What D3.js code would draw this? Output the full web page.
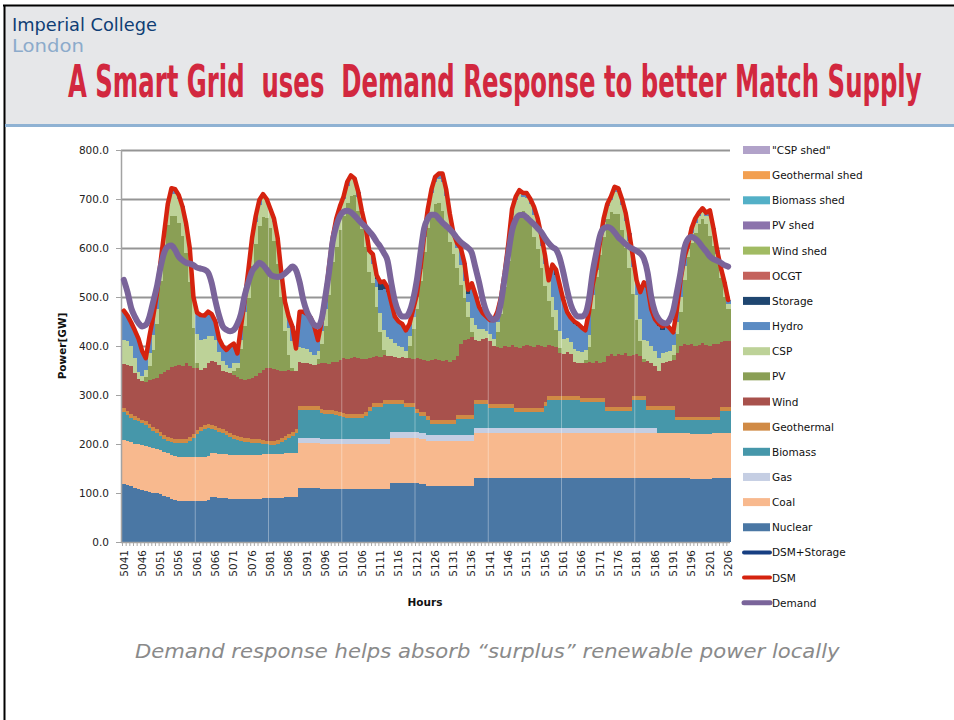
<!DOCTYPE html>
<html>
<head>
<meta charset="utf-8">
<script src="https://cdn.jsdelivr.net/npm/d3@7"></script>
<style>
  body { margin: 0; background: #fff; }
  svg { display: block; }
</style>
</head>
<body>
<svg id="chart" width="954" height="720"></svg>
<script>
// Hours on the x axis (5041 .. 5206)
const firstHour = 5041;
const hours = d3.range(firstHour, firstHour + 166);

// Supply by source, GW per hour
const nuclear = [
  118,116,114,111,109,107,105,103,101,99,
  97,94,91,88,86,84,83,83,83,83,
  83,84,84,85,91,91,90,90,89,88,
  88,88,87,87,87,88,88,88,89,89,
  89,90,90,90,91,91,92,92,110,110,
  110,110,110,110,108,108,108,108,108,108,
  108,108,108,108,109,109,109,109,109,109,
  109,109,109,120,120,120,120,120,120,120,
  120,118,118,115,115,115,115,115,115,115,
  115,115,115,115,115,115,130,130,130,130,
  130,130,130,130,130,130,130,130,130,130,
  130,130,130,130,130,130,130,130,130,130,
  130,130,130,130,130,130,130,130,130,130,
  130,130,130,130,130,130,130,130,130,130,
  130,130,130,130,130,130,130,130,130,130,
  130,130,130,130,130,128,128,128,128,128,
  128,130,130,130,130,130
];
const coal = [
  90,90,90,90,90,90,90,90,90,90,
  90,90,90,90,90,90,90,90,90,90,
  90,90,90,90,90,90,90,90,90,90,
  90,90,90,90,90,90,90,90,90,90,
  90,90,90,90,90,90,90,90,92,92,
  92,92,92,92,92,92,92,92,92,92,
  92,92,92,92,92,92,92,92,92,92,
  92,92,92,92,92,92,92,92,92,92,
  92,92,92,92,92,92,92,92,92,92,
  92,92,92,92,92,92,92,92,92,92,
  92,92,92,92,92,92,92,92,92,92,
  92,92,92,92,92,92,92,92,92,92,
  92,92,92,92,92,92,92,92,92,92,
  92,92,92,92,92,92,92,92,92,92,
  92,92,92,92,92,92,92,92,92,92,
  92,92,92,92,92,92,92,92,92,92,
  92,92,92,92,92,92
];
const gas = [
  0,0,0,0,0,0,0,0,0,0,
  0,0,0,0,0,0,0,0,0,0,
  0,0,0,0,0,0,0,0,0,0,
  0,0,0,0,0,0,0,0,0,0,
  0,0,0,0,0,0,0,0,10,10,
  10,10,10,10,10,10,10,10,10,10,
  10,10,10,10,10,10,10,10,10,10,
  10,10,10,12,12,12,12,12,12,12,
  12,12,12,11,11,11,11,11,11,11,
  11,11,11,11,11,11,11,11,11,11,
  11,11,11,11,11,11,11,11,11,11,
  11,11,11,11,11,11,11,11,11,11,
  11,11,11,11,11,11,11,11,11,11,
  11,11,11,11,11,11,11,11,11,11,
  11,11,11,11,11,11,0,0,0,0,
  0,0,0,0,0,0,0,0,0,0,
  0,0,0,0,0,0
];
const biomass = [
  57,54,50,49,47,45,43,39,36,33,
  29,26,25,26,26,28,29,30,33,39,
  47,52,56,57,50,47,44,42,39,36,
  32,30,29,28,27,25,24,24,21,20,
  19,18,20,24,27,31,35,40,58,58,
  58,58,58,57,54,52,52,51,50,48,
  45,44,44,44,43,43,47,56,64,64,
  64,70,70,57,57,57,57,52,52,52,
  40,36,36,32,22,22,22,22,22,22,
  22,34,34,34,34,34,49,49,49,49,
  41,41,41,41,41,41,41,33,33,33,
  33,33,33,33,33,44,56,56,56,56,
  56,56,56,56,56,52,52,52,52,52,
  52,52,34,34,34,34,34,34,34,56,
  56,56,56,36,36,36,47,47,47,47,
  47,26,26,26,26,28,28,28,28,28,
  28,26,26,45,45,45
];
const geothermal = [
  8,8,8,8,8,8,8,8,8,8, 8,8,8,8,8,8,8,8,8,8,
  8,8,8,8,8,8,8,8,8,8, 8,8,8,8,8,8,8,8,8,8,
  8,8,8,8,8,8,8,8,8,8, 8,8,8,8,8,8,8,8,8,8,
  8,8,8,8,8,8,8,8,8,8, 8,8,8,8,8,8,8,8,8,8,
  8,8,8,8,8,8,8,8,8,8, 8,8,8,8,8,8,8,8,8,8,
  8,8,8,8,8,8,8,8,8,8, 8,8,8,8,8,8,8,8,8,8,
  8,8,8,8,8,8,8,8,8,8, 8,8,8,8,8,8,8,8,8,8,
  8,8,8,8,8,8,8,8,8,8, 8,8,8,8,8,8,8,8,8,8,
  8,8,8,8,8,8
];
const wind = [
  90,94,98,87,78,78,81,90,97,105,
  118,129,138,146,150,152,150,154,146,136,
  127,118,118,126,131,132,130,120,121,122,
  122,120,119,117,120,123,128,135,144,149,
  150,148,144,138,134,132,125,118,90,88,
  87,85,84,87,93,96,94,98,100,106,
  112,112,114,116,113,112,107,101,95,97,
  95,93,90,91,88,87,89,91,91,90,
  104,107,106,112,124,126,123,122,124,120,
  124,120,145,152,155,158,122,120,124,126,
  128,118,116,114,118,116,120,124,122,126,
  128,126,124,129,126,113,105,103,101,89,
  87,91,86,71,68,73,73,75,72,77,
  73,75,105,108,105,109,107,110,105,85,
  87,83,71,93,89,83,73,88,91,93,
  95,129,144,148,146,149,144,147,150,146,
  144,148,149,133,135,135
];
const pv = [
  0,0,0,0,0,0,10,30,60,110,
  190,245,295,308,305,290,265,225,170,80,
  10,0,0,0,0,0,0,0,0,0,
  10,20,60,110,165,230,270,300,312,305,
  285,260,215,150,80,30,5,0,0,0,
  0,0,0,10,40,75,140,205,235,265,
  290,318,330,330,300,265,230,175,150,100,
  50,10,0,0,0,0,0,0,25,60,
  100,160,220,270,300,315,320,305,275,245,
  215,180,120,85,45,10,0,0,0,0,
  0,0,30,70,120,175,225,255,275,275,
  265,250,225,195,160,125,90,60,35,10,
  0,0,0,0,0,0,5,30,110,170,
  220,255,280,290,290,285,255,215,180,125,
  70,30,5,0,0,0,0,0,0,0,
  10,40,70,130,180,205,230,245,254,248,
  225,200,172,130,90,65
];
const csp = [
  50,48,40,30,15,10,15,25,30,30,
  35,35,38,45,45,48,52,55,60,55,
  60,60,58,55,50,45,25,20,15,12,
  15,10,20,30,38,45,45,42,40,35,
  35,40,48,50,55,55,55,45,30,30,
  28,25,20,15,25,35,40,42,50,45,
  35,35,35,30,30,30,35,40,40,40,
  40,40,40,35,30,25,20,15,20,25,
  25,25,30,35,40,45,50,60,60,55,
  40,40,40,35,30,30,30,25,20,15,
  15,15,20,25,25,30,40,45,40,30,
  35,40,45,45,45,45,40,40,40,35,
  30,28,25,25,25,22,20,25,30,15,
  20,30,25,25,45,45,50,55,55,55,
  50,45,40,40,35,30,25,20,20,20,
  20,25,30,30,15,20,22,18,15,15,
  40,30,10,15,20,10
];
const hydro = [
  59,52,48,57,68,52,23,35,38,30,
  3,3,5,11,10,8,8,5,10,9,
  43,51,48,49,45,37,28,30,30,44,
  40,19,27,24,20,11,12,11,6,4,
  4,6,5,0,5,23,30,2,72,74,
  72,70,58,23,20,18,16,6,7,3,
  5,8,7,4,10,6,5,4,19,17,
  47,85,91,75,53,49,47,42,25,16,
  4,2,3,5,8,11,11,17,13,2,
  3,10,35,38,17,58,63,45,33,29,
  28,38,22,9,5,7,13,7,7,7,
  10,10,16,17,20,17,2,58,71,88,
  80,54,50,52,50,50,41,47,20,5,
  6,7,5,7,10,8,13,17,15,20,
  30,55,117,110,74,65,66,47,56,47,
  26,25,35,16,8,10,8,6,6,7,
  12,6,8,7,10,9
];
const storage = [
  0,0,0,0,0,0,0,0,0,0, 0,0,0,0,0,0,0,0,0,0,
  0,0,0,0,0,0,0,0,0,0, 0,0,0,0,0,0,0,0,0,0,
  0,0,0,0,0,0,0,0,0,0, 0,0,0,0,0,0,0,0,0,0,
  0,0,0,0,0,0,0,0,0,8,
  15,15,10,0,0,0,0,0,0,0,
  0,0,0,0,0,0,0,0,0,0,
  0,0,0,0,8,12,0,0,0,0,
  0,0,0,0,0,0,0,0,0,0,
  0,0,0,0,0,0,0,8,12,6,
  0,0,0,5,5,0,0,0,0,0,
  0,0,0,0,0,0,0,0,0,0,
  0,0,0,0,0,0,5,8,0,0,
  0,0,0,0,0,0,0,0,0,0,
  0,0,0,0,0,0
];

// Lines, GW per hour
const dsm = [
  472,462,448,432,415,390,375,420,460,505,
  570,630,690,722,720,708,685,650,600,500,
  468,463,462,470,465,450,415,400,392,400,
  405,385,440,494,555,620,665,698,710,700,
  680,660,620,550,490,460,440,395,470,470,
  465,458,440,412,450,494,560,620,660,685,
  705,735,748,742,715,675,643,595,587,545,
  530,532,520,490,460,450,445,432,445,475,
  505,560,625,680,720,745,752,752,720,670,
  630,610,600,570,515,528,505,480,467,460,
  453,453,470,500,550,610,680,705,718,712,
  712,700,684,660,625,585,534,566,556,525,
  494,470,458,450,445,438,432,470,525,560,
  612,660,690,705,725,722,700,672,630,582,
  534,510,530,520,475,455,446,440,444,437,
  428,475,535,580,605,640,660,672,681,672,
  677,640,595,560,530,494
];
const demand = [
  535,510,478,460,447,440,443,460,490,520,
  560,590,603,605,596,582,575,570,568,565,
  560,558,556,550,528,492,462,440,433,430,
  433,445,466,503,530,552,562,570,565,556,
  546,542,541,543,548,555,562,555,530,494,
  470,455,443,440,455,500,550,612,645,665,
  674,676,673,666,658,650,643,634,625,613,
  603,590,574,530,492,470,460,460,470,495,
  534,590,640,660,668,668,660,652,645,638,
  630,620,612,606,600,590,560,530,495,470,
  458,454,460,490,540,590,636,658,667,668,
  662,655,648,640,632,620,610,602,597,580,
  550,515,485,468,460,460,466,495,550,590,
  625,640,643,640,632,622,615,608,602,598,
  594,589,578,550,500,470,455,448,446,453,
  472,510,550,598,618,623,619,612,602,593,
  583,577,574,570,565,562
];

const yTicks = [0, 100, 200, 300, 400, 500, 600, 700, 800];

// Stack order bottom to top
const stackKeys = ["nuclear", "coal", "gas", "biomass", "geothermal", "wind", "pv", "csp", "hydro", "storage"];
const stackColors = {
  nuclear: "#4a77a4", coal: "#f8b98e", gas: "#c5cee3", biomass: "#4697aa",
  geothermal: "#d08a45", wind: "#a8514c", pv: "#8a9f55", csp: "#bdd298",
  hydro: "#5b8bc3", storage: "#1f4670"
};

// Legend, top to bottom
const legendItems = [
  { name: "\"CSP shed\"", color: "#b1a2c9", type: "rect" },
  { name: "Geothermal shed", color: "#f29f50", type: "rect" },
  { name: "Biomass shed", color: "#53b0c7", type: "rect" },
  { name: "PV shed", color: "#8c73ac", type: "rect" },
  { name: "Wind shed", color: "#a1bb63", type: "rect" },
  { name: "OCGT", color: "#c4625c", type: "rect" },
  { name: "Storage", color: stackColors.storage, type: "rect" },
  { name: "Hydro", color: stackColors.hydro, type: "rect" },
  { name: "CSP", color: stackColors.csp, type: "rect" },
  { name: "PV", color: stackColors.pv, type: "rect" },
  { name: "Wind", color: stackColors.wind, type: "rect" },
  { name: "Geothermal", color: stackColors.geothermal, type: "rect" },
  { name: "Biomass", color: stackColors.biomass, type: "rect" },
  { name: "Gas", color: stackColors.gas, type: "rect" },
  { name: "Coal", color: stackColors.coal, type: "rect" },
  { name: "Nuclear", color: stackColors.nuclear, type: "rect" },
  { name: "DSM+Storage", color: "#173f82", type: "line" },
  { name: "DSM", color: "#d5230f", type: "line" },
  { name: "Demand", color: "#7a649a", type: "line" }
];

// Table for d3.stack
const table = hours.map((h, i) => ({
  hour: h,
  nuclear: nuclear[i], coal: coal[i], gas: gas[i], biomass: biomass[i],
  geothermal: geothermal[i], wind: wind[i], pv: pv[i], csp: csp[i],
  hydro: hydro[i], storage: storage[i]
}));

const svg = d3.select("#chart");
const narrow = "'Liberation Sans Narrow', 'DejaVu Sans Condensed', 'Arial Narrow', sans-serif";
const sans = "'DejaVu Sans', Verdana, sans-serif";

// squeeze a text horizontally to a given width (keeps its box inside the slide)
function fitWidth(sel, x0, y0, width) {
  const w = sel.node().getComputedTextLength();
  sel.attr("x", null).attr("y", null)
    .attr("transform", `translate(${x0},${y0}) scale(${width / w},1)`);
}

// Slide header
svg.append("rect").attr("x", 4).attr("y", 5).attr("width", 950).attr("height", 120).attr("fill", "#e6e7e9");
svg.append("line").attr("x1", 3).attr("x2", 954).attr("y1", 5.5).attr("y2", 5.5).attr("stroke", "#000").attr("stroke-width", 2);
svg.append("line").attr("x1", 4.5).attr("x2", 4.5).attr("y1", 5).attr("y2", 720).attr("stroke", "#000").attr("stroke-width", 2);
svg.append("line").attr("x1", 5).attr("x2", 954).attr("y1", 125.5).attr("y2", 125.5).attr("stroke", "#8fb2d3").attr("stroke-width", 3);

const logo1 = svg.append("text").attr("font-family", narrow).attr("font-stretch", "condensed")
  .attr("font-size", 17).attr("fill", "#0f3e75").text("Imperial College");
fitWidth(logo1, 12, 31, 145);
const logo2 = svg.append("text").attr("font-family", narrow).attr("font-stretch", "condensed")
  .attr("font-size", 17).attr("fill", "#8cabcb").text("London");
fitWidth(logo2, 12, 52, 72);

const title = svg.append("text").attr("font-family", narrow).attr("font-stretch", "condensed")
  .attr("font-size", 44).attr("font-weight", "bold").attr("fill", "#d2283f")
  .attr("xml:space", "preserve")
  .text("A Smart Grid  uses  Demand Response to better Match Supply");
fitWidth(title, 68, 97, 854);

// Scales
const x = d3.scaleBand().domain(hours).range([122, 730]).padding(0);
const y = d3.scaleLinear().domain([0, 800]).range([542, 150]);
const bw = x.bandwidth();

// Gridlines
svg.append("g").selectAll("line").data(yTicks.filter(t => t > 0)).join("line")
  .attr("x1", 121).attr("x2", 730)
  .attr("y1", d => y(d) + 0.5).attr("y2", d => y(d) + 0.5)
  .attr("stroke", "#959595").attr("stroke-width", 2);

// Stacked columns
const stacked = d3.stack().keys(stackKeys)(table);
const bars = svg.append("g").attr("shape-rendering", "crispEdges");
stacked.forEach(layer => {
  bars.append("g").attr("fill", stackColors[layer.key])
    .selectAll("rect").data(layer.filter(d => d[1] > d[0])).join("rect")
    .attr("x", d => x(d.data.hour))
    .attr("width", bw + 0.5)
    .attr("y", d => y(d[1]))
    .attr("height", d => y(d[0]) - y(d[1]));
});

// faint seams every 20 hours like the original export
const seamHours = [5061, 5081, 5101, 5121, 5141, 5161, 5181];
const tops = stacked[stacked.length - 1];
svg.append("g").selectAll("line").data(seamHours).join("line")
  .attr("x1", d => x(d)).attr("x2", d => x(d))
  .attr("y1", y(0))
  .attr("y2", d => y(tops[d - firstHour][1]))
  .attr("stroke", "#fff").attr("stroke-opacity", 0.35).attr("stroke-width", 1);

// Axes
svg.append("line").attr("x1", 121.5).attr("x2", 121.5).attr("y1", 150).attr("y2", 543)
  .attr("stroke", "#a3a3a3").attr("stroke-width", 1.5);
svg.append("line").attr("x1", 121).attr("x2", 730).attr("y1", 542.5).attr("y2", 542.5)
  .attr("stroke", "#a3a3a3").attr("stroke-width", 1.5);

const yAxis = svg.append("g");
yAxis.selectAll("line").data(yTicks).join("line")
  .attr("x1", 116).attr("x2", 121).attr("y1", d => y(d) + 0.5).attr("y2", d => y(d) + 0.5)
  .attr("stroke", "#a3a3a3");
yAxis.selectAll("text").data(yTicks).join("text")
  .attr("x", 109).attr("y", d => y(d) + 4)
  .attr("text-anchor", "end").attr("font-family", sans).attr("font-size", 10.5).attr("fill", "#222")
  .text(d => d3.format(".1f")(d));

const xAxis = svg.append("g");
xAxis.selectAll("line").data(hours).join("line")
  .attr("x1", d => x(d) + 0.5).attr("x2", d => x(d) + 0.5)
  .attr("y1", 543).attr("y2", 546).attr("stroke", "#a9a9a9");
xAxis.selectAll("text").data(hours.filter(h => (h - firstHour) % 5 === 0)).join("text")
  .attr("transform", d => `translate(${x(d) + bw / 2},550) rotate(-90)`)
  .attr("dy", "0.35em").attr("text-anchor", "end")
  .attr("font-family", sans).attr("font-size", 10.5).attr("fill", "#222")
  .text(d => d);

svg.append("text").attr("transform", "translate(66,346) rotate(-90)")
  .attr("text-anchor", "middle").attr("font-family", sans).attr("font-weight", "bold")
  .attr("font-size", 10.5).attr("fill", "#111").text("Power[GW]");
svg.append("text").attr("x", 425).attr("y", 606)
  .attr("text-anchor", "middle").attr("font-family", sans).attr("font-weight", "bold")
  .attr("font-size", 10.5).attr("fill", "#111").text("Hours");

// Lines
const xc = d => x(d) + bw / 2;
const dsmLine = d3.line().x((d, i) => xc(hours[i])).y(d => y(d));
svg.append("path").datum(dsm).attr("d", dsmLine)
  .attr("fill", "none").attr("stroke", "#d5230f").attr("stroke-width", 4.5)
  .attr("stroke-linejoin", "round").attr("stroke-linecap", "round");
const demandLine = d3.line().x((d, i) => xc(hours[i])).y(d => y(d)).curve(d3.curveMonotoneX);
svg.append("path").datum(demand).attr("d", demandLine)
  .attr("fill", "none").attr("stroke", "#7a649a").attr("stroke-width", 6)
  .attr("stroke-linejoin", "round").attr("stroke-linecap", "round");

// Legend
const legend = svg.append("g");
const item = legend.selectAll("g").data(legendItems).join("g")
  .attr("transform", (d, i) => `translate(743,${150 + i * 25.15})`);
item.filter(d => d.type === "rect").append("rect")
  .attr("x", 0).attr("y", -4).attr("width", 27).attr("height", 8).attr("fill", d => d.color);
item.filter(d => d.type === "line").append("line")
  .attr("x1", 1).attr("x2", 27).attr("y1", 0).attr("y2", 0)
  .attr("stroke", d => d.color).attr("stroke-width", d => d.name === "Demand" ? 5 : 4)
  .attr("stroke-linecap", "round");
item.append("text").attr("x", 29).attr("y", 4)
  .attr("font-family", sans).attr("font-size", 10.5).attr("fill", "#111")
  .text(d => d.name);

// Caption
const caption = svg.append("text").attr("text-anchor", "start")
  .attr("font-family", sans).attr("font-style", "italic").attr("font-size", 19.5)
  .attr("fill", "#8a8a8a")
  .text("Demand response helps absorb \u201csurplus\u201d renewable power locally");
fitWidth(caption, 135, 658, 705);
</script>
</body>
</html>
